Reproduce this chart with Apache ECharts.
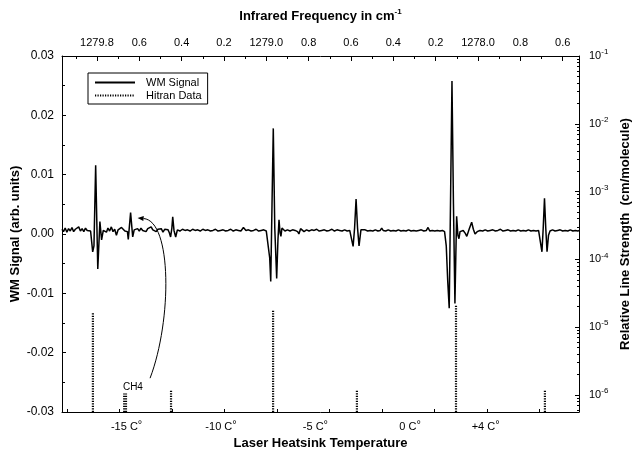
<!DOCTYPE html>
<html>
<head>
<meta charset="utf-8">
<script src="https://cdn.jsdelivr.net/npm/echarts@6/dist/echarts.min.js"></script>
<style>
  html, body { margin: 0; padding: 0; background: #fff; }
  #main { width: 639px; height: 452px; }
</style>
</head>
<body>
<div id="main"></div>
<script>
// WM signal trace, x = infrared frequency (cm-1), y = signal (arb. units)
var sigX = [
  1279.965, 1279.958, 1279.950, 1279.942, 1279.934, 1279.926, 1279.918, 1279.910, 1279.902, 1279.894,
  1279.886, 1279.878, 1279.870, 1279.862, 1279.854, 1279.846, 1279.838, 1279.830, 1279.825,
  1279.820, 1279.814, 1279.806, 1279.796, 1279.786, 1279.778, 1279.770, 1279.762, 1279.755, 1279.748,
  1279.740, 1279.732, 1279.724, 1279.716, 1279.708, 1279.700, 1279.692, 1279.684, 1279.676, 1279.668,
  1279.660, 1279.656,
  1279.652, 1279.641, 1279.631, 1279.624, 1279.616, 1279.608, 1279.600, 1279.592, 1279.584, 1279.576,
  1279.568, 1279.560, 1279.552, 1279.544, 1279.536, 1279.528, 1279.520, 1279.512, 1279.504, 1279.496,
  1279.488, 1279.480, 1279.472, 1279.464, 1279.458,
  1279.452, 1279.446, 1279.442, 1279.436, 1279.428, 1279.420, 1279.408, 1279.396, 1279.384, 1279.372,
  1279.360, 1279.348, 1279.336, 1279.324, 1279.312, 1279.300, 1279.288, 1279.276, 1279.264, 1279.252,
  1279.240, 1279.228, 1279.216, 1279.204, 1279.192, 1279.180, 1279.168, 1279.156, 1279.144, 1279.132,
  1279.120, 1279.108, 1279.096, 1279.084, 1279.072, 1279.060, 1279.048, 1279.036, 1279.024, 1279.012,
  1279.000, 1278.992,
  1278.984, 1278.979, 1278.973, 1278.967, 1278.960, 1278.951, 1278.945, 1278.940, 1278.935, 1278.931,
  1278.926, 1278.921, 1278.912, 1278.900, 1278.888, 1278.876, 1278.864, 1278.852, 1278.846, 1278.838,
  1278.831, 1278.822, 1278.810, 1278.798, 1278.786, 1278.774, 1278.762, 1278.750, 1278.738, 1278.726,
  1278.714, 1278.702, 1278.690, 1278.678, 1278.666, 1278.654, 1278.642, 1278.630, 1278.618, 1278.606,
  1278.598,
  1278.590, 1278.583, 1278.576, 1278.569, 1278.562, 1278.553, 1278.545, 1278.533, 1278.521, 1278.509,
  1278.497, 1278.485, 1278.473, 1278.462, 1278.455, 1278.448, 1278.436, 1278.424, 1278.412, 1278.400,
  1278.388, 1278.376, 1278.364, 1278.352, 1278.340, 1278.328, 1278.316, 1278.304, 1278.292, 1278.280,
  1278.268, 1278.256, 1278.244, 1278.236, 1278.228, 1278.216, 1278.204, 1278.192, 1278.180, 1278.168,
  1278.158,
  1278.150, 1278.143, 1278.136, 1278.130, 1278.123, 1278.116, 1278.109, 1278.105, 1278.101, 1278.095,
  1278.090, 1278.085, 1278.080, 1278.070, 1278.060, 1278.053, 1278.042, 1278.030, 1278.022, 1278.014,
  1278.004, 1277.991, 1277.978, 1277.966, 1277.954, 1277.942, 1277.930, 1277.918, 1277.906, 1277.894,
  1277.882, 1277.870, 1277.858, 1277.846, 1277.834, 1277.822, 1277.810, 1277.798, 1277.786, 1277.774,
  1277.762, 1277.750, 1277.738, 1277.726, 1277.714, 1277.705,
  1277.698, 1277.692, 1277.686, 1277.680, 1277.674, 1277.667, 1277.660, 1277.648, 1277.636, 1277.624,
  1277.612, 1277.600, 1277.588, 1277.576, 1277.564, 1277.552, 1277.540, 1277.528, 1277.523
];
var sigY = [
  0.0008, 0.0004, 0.0010, 0.0003, 0.0009, 0.0005, 0.0011, 0.0004, 0.0008, 0.0006,
  0.0012, 0.0005, 0.0009, 0.0004, 0.0010, 0.0006, 0.0008, 0.0005, 0.0002,
  -0.0030, -0.0020, 0.0116, -0.0059, 0.0021, -0.0010, 0.0006, 0.0009, 0.0003, 0.0010,
  0.0005, 0.0012, 0.0004, 0.0008, -0.0002, 0.0007, 0.0004, 0.0011, 0.0010, 0.0005,
  0.0008, 0.0004,
  -0.0009, 0.0036, -0.0005, 0.0007, 0.0004, 0.0009, 0.0005, 0.0010, 0.0006, 0.0008,
  0.0004, 0.0009, 0.0006, 0.0012, 0.0007, 0.0010, 0.0004, 0.0008, 0.0005, 0.0009,
  0.0003, 0.0008, 0.0005, 0.0007, 0.0002,
  -0.0005, 0.0010, 0.0029, 0.0006, -0.0005, 0.0007, 0.0005, 0.0008, 0.0006, 0.0007,
  0.0005, 0.0008, 0.0006, 0.0007, 0.0005, 0.0008, 0.0006, 0.0007, 0.0005, 0.0006,
  0.0008, 0.0005, 0.0006, 0.0007, 0.0005, 0.0006, 0.0008, 0.0005, 0.0007, 0.0006,
  0.0005, 0.0011, 0.0006, 0.0007, 0.0005, 0.0006, 0.0008, 0.0005, 0.0006, 0.0007,
  0.0005, 0.0003,
  -0.0040, -0.0080, 0.0050, 0.0178, 0.0010, -0.0075, -0.0010, 0.0024, 0.0002, -0.0004,
  0.0010, 0.0008, 0.0005, 0.0007, 0.0005, 0.0007, 0.0006, 0.0004, 0.0000, 0.0009,
  0.0012, 0.0004, 0.0007, 0.0005, 0.0007, 0.0006, 0.0008, 0.0005, 0.0006, 0.0007,
  0.0005, 0.0006, 0.0008, 0.0005, 0.0007, 0.0006, 0.0005, 0.0007, 0.0005, 0.0006,
  0.0004,
  -0.0021, 0.0010, 0.0059, 0.0010, -0.0020, 0.0007, 0.0005, 0.0007, 0.0005, 0.0006,
  0.0005, 0.0007, 0.0005, 0.0006, 0.0010, 0.0006, 0.0005, 0.0007, 0.0005, 0.0006,
  0.0005, 0.0007, 0.0005, 0.0006, 0.0005, 0.0007, 0.0005, 0.0006, 0.0005, 0.0006,
  0.0007, 0.0005, 0.0006, 0.0011, 0.0005, 0.0006, 0.0005, 0.0006, 0.0005, 0.0006,
  0.0004,
  -0.0020, -0.0080, -0.0125, 0.0050, 0.0258, 0.0050, -0.0117, -0.0040, 0.0030, -0.0002,
  -0.0008, 0.0004, 0.0002, 0.0006, 0.0001, -0.0004, 0.0008, 0.0020, 0.0008, 0.0000,
  0.0004, 0.0006, 0.0005, 0.0007, 0.0005, 0.0006, 0.0007, 0.0005, 0.0006, 0.0008,
  0.0005, 0.0006, 0.0007, 0.0005, 0.0006, 0.0005, 0.0007, 0.0005, 0.0006, 0.0005,
  0.0007, 0.0005, 0.0006, 0.0005, 0.0006, 0.0004,
  -0.0030, 0.0010, 0.0060, 0.0010, -0.0030, -0.0002, 0.0005, 0.0007, 0.0005, 0.0006,
  0.0007, 0.0005, 0.0006, 0.0005, 0.0007, 0.0005, 0.0006, 0.0005, 0.0006
];

// Hitran line positions (cm-1) and relative line strengths (cm/molecule)
var hitranX = [1279.819, 1279.450, 1278.968, 1278.572, 1278.104, 1277.684];
var hitranS = [1.6e-5, 1.15e-6, 1.8e-5, 1.15e-6, 2.1e-5, 1.15e-6];
var ch4X = [1279.667];
var ch4S = [1.05e-6];

// axis ranges
var FREQ_MIN = 1277.523, FREQ_MAX = 1279.965;
var SIG_MIN = -0.03, SIG_MAX = 0.03;
var STR_MIN = 5.6e-7, STR_MAX = 0.1;

// top axis (infrared frequency)
var topTickVals = [1279.8, 1279.6, 1279.4, 1279.2, 1279.0, 1278.8, 1278.6, 1278.4, 1278.2, 1278.0, 1277.8, 1277.6];
var topTickLabels = ['1279.8', '0.6', '0.4', '0.2', '1279.0', '0.8', '0.6', '0.4', '0.2', '1278.0', '0.8', '0.6'];
var topMinorVals = [1279.9, 1279.7, 1279.5, 1279.3, 1279.1, 1278.9, 1278.7, 1278.5, 1278.3, 1278.1, 1277.9, 1277.7];

// bottom axis (laser heatsink temperature)
var tempVals = [1279.660, 1279.214, 1278.768, 1278.321, 1277.964];
var tempLabels = ['-15 C°', '-10 C°', '-5 C°', '0 C°', '+4 C°'];
var bottomTickVals = [1279.941, 1279.693, 1279.445, 1279.197, 1278.949, 1278.701, 1278.453, 1278.205, 1277.957, 1277.709];

// right axis minor ticks (log)
var logDecades = [1e-6, 1e-5, 1e-4, 1e-3, 1e-2];
var logMantissas = [2, 3, 4, 5, 6, 7, 8, 9];

// CH4 annotation: label position and curved arrow (start, two control points, tip)
var ch4LabelAt = [1279.630, -0.0258];
var arrowPath = [[1279.549, -0.0243], [1279.445, -0.0145], [1279.445, 0.0022], [1279.608, 0.0027]];

var logMinorVals = [6e-7, 7e-7, 8e-7, 9e-7];
logDecades.forEach(function (d) {
  logMantissas.forEach(function (m) { logMinorVals.push(m * d); });
});

var sigData = sigX.map(function (x, i) { return [x, sigY[i]]; });

function stickData(xs, ss) {
  var out = [];
  xs.forEach(function (x, i) {
    out.push([x, STR_MIN], [x, ss[i]], [x, '-']);
  });
  return out;
}

function renderArrow(params, api) {
  var p = arrowPath.map(function (c) { return api.coord(c); });
  var ex = p[3][0] - p[2][0], ey = p[3][1] - p[2][1];
  var len = Math.sqrt(ex * ex + ey * ey) || 1;
  var ux = ex / len, uy = ey / len;
  var L = 6, W = 2.6;
  var bx = p[3][0] - ux * L, by = p[3][1] - uy * L;
  return {
    type: 'group',
    children: [
      {
        type: 'bezierCurve',
        shape: { x1: p[0][0], y1: p[0][1], cpx1: p[1][0], cpy1: p[1][1], cpx2: p[2][0], cpy2: p[2][1], x2: bx, y2: by },
        style: { stroke: '#000', fill: null, lineWidth: 1 }
      },
      {
        type: 'polygon',
        shape: { points: [p[3], [bx - uy * W, by + ux * W], [bx + uy * W, by - ux * W]] },
        style: { fill: '#000' }
      }
    ]
  };
}

var chart = echarts.init(document.getElementById('main'), null, { renderer: 'canvas' });

var FONT = 'Liberation Sans';
var axisBlack = { onZero: false, lineStyle: { color: '#000', width: 1 } };

var option = {
  backgroundColor: '#fff',
  animation: false,
  grid: { left: 62, right: 60, top: 56, bottom: 40, outerBoundsMode: 'none' },
  legend: {
    left: 88, top: 73,
    orient: 'vertical',
    data: ['WM Signal', 'Hitran Data'],
    borderColor: '#000', borderWidth: 1, borderRadius: 0,
    padding: [4, 6, 3, 6],
    itemGap: 2,
    itemWidth: 40, itemHeight: 8,
    itemStyle: { color: 'rgba(0,0,0,0)', borderColor: 'rgba(0,0,0,0)', borderWidth: 0 },
    textStyle: { fontFamily: FONT, fontSize: 11, color: '#000', padding: [0, 0, 0, 6] }
  },
  xAxis: [
    {
      type: 'value', position: 'bottom', inverse: true,
      min: FREQ_MIN, max: FREQ_MAX,
      name: 'Laser Heatsink Temperature', nameLocation: 'middle', nameGap: 25, nameMoveOverlap: false,
      nameTextStyle: { fontFamily: FONT, fontSize: 13, fontWeight: 'bold', color: '#000' },
      axisLine: axisBlack,
      axisTick: { show: true, inside: true, length: 3, customValues: bottomTickVals, lineStyle: { color: '#000' } },
      axisLabel: {
        customValues: tempVals, margin: 7,
        fontFamily: FONT, fontSize: 11, color: '#000',
        formatter: function (v) {
          var i = tempVals.indexOf(v);
          var t = i >= 0 ? tempLabels[i] : '';
          return t.replace('°', '{s|°}');
        },
        rich: { s: { fontFamily: FONT, fontSize: 11, color: '#000', padding: [0, 0, 4, 0] } }
      },
      splitLine: { show: false }
    },
    {
      type: 'value', position: 'top', inverse: true,
      min: FREQ_MIN, max: FREQ_MAX,
      name: 'Infrared Frequency in cm{s|-1}', nameLocation: 'middle', nameGap: 32, nameMoveOverlap: false,
      nameTextStyle: {
        fontFamily: FONT, fontSize: 13, fontWeight: 'bold', color: '#000',
        rich: { s: { fontFamily: FONT, fontSize: 8, fontWeight: 'bold', color: '#000', padding: [0, 0, 8, 0] } }
      },
      axisLine: axisBlack,
      axisTick: { show: true, inside: true, length: 5, customValues: topTickVals, lineStyle: { color: '#000' } },
      axisLabel: {
        customValues: topTickVals, margin: 8,
        fontFamily: FONT, fontSize: 11, color: '#000',
        formatter: function (v) {
          var i = topTickVals.indexOf(v);
          return i >= 0 ? topTickLabels[i] : '';
        }
      },
      splitLine: { show: false }
    },
    {
      type: 'value', position: 'top', inverse: true,
      min: FREQ_MIN, max: FREQ_MAX,
      axisLine: { show: false, onZero: false },
      axisTick: { show: true, inside: true, length: 3, customValues: topMinorVals, lineStyle: { color: '#000' } },
      axisLabel: { show: false },
      splitLine: { show: false }
    }
  ],
  yAxis: [
    {
      type: 'value', position: 'left',
      min: SIG_MIN, max: SIG_MAX, interval: 0.01,
      name: 'WM Signal (arb. units)', nameLocation: 'middle', nameGap: 40, nameMoveOverlap: false,
      nameTextStyle: { fontFamily: FONT, fontSize: 13, fontWeight: 'bold', color: '#000' },
      axisLine: { show: true, onZero: false, lineStyle: { color: '#000', width: 1 } },
      axisTick: { show: true, inside: true, length: 4, lineStyle: { color: '#000' } },
      minorTick: { show: true, splitNumber: 2, length: 3, lineStyle: { color: '#000' } },
      axisLabel: {
        margin: 8, fontFamily: FONT, fontSize: 12, color: '#000',
        formatter: function (v) { return v.toFixed(2); }
      },
      splitLine: { show: false }
    },
    {
      type: 'log', logBase: 10, position: 'right',
      min: STR_MIN, max: STR_MAX,
      name: 'Relative Line Strength  (cm/molecule)', nameLocation: 'middle', nameGap: 40, nameRotate: 90,
      nameMoveOverlap: false,
      nameTextStyle: { fontFamily: FONT, fontSize: 13, fontWeight: 'bold', color: '#000' },
      axisLine: { show: true, onZero: false, lineStyle: { color: '#000', width: 1 } },
      axisTick: { show: true, inside: true, length: 4, lineStyle: { color: '#000' } },
      axisLabel: {
        margin: 10, fontFamily: FONT, fontSize: 11, color: '#000',
        formatter: function (v) {
          var e = Math.log(v) / Math.LN10;
          var r = Math.round(e);
          if (Math.abs(e - r) > 0.01) return '';
          return '{b|10}{s|' + r + '}';
        },
        rich: {
          b: { fontFamily: FONT, fontSize: 11, color: '#000' },
          s: { fontFamily: FONT, fontSize: 8, color: '#000', padding: [0, 0, 8, 0] }
        }
      },
      splitLine: { show: false }
    },
    {
      type: 'log', logBase: 10, position: 'right',
      min: STR_MIN, max: STR_MAX,
      axisLine: { show: false, onZero: false },
      axisTick: { show: true, inside: true, length: 2, customValues: logMinorVals, lineStyle: { color: '#000' } },
      axisLabel: { show: false },
      splitLine: { show: false }
    }
  ],
  series: [
    {
      name: 'WM Signal', type: 'line',
      xAxisIndex: 0, yAxisIndex: 0,
      data: sigData,
      symbol: 'none', showSymbol: false,
      lineStyle: { color: '#000', width: 1.5 },
      itemStyle: { color: '#000' },
      z: 3,
      markPoint: {
        silent: true, animation: false,
        symbol: 'circle', symbolSize: 1,
        itemStyle: { color: 'rgba(0,0,0,0)' },
        label: { show: true, position: 'inside', formatter: 'CH4', fontFamily: FONT, fontSize: 10, color: '#000' },
        data: [{ coord: ch4LabelAt }]
      }
    },
    {
      name: 'Hitran Data', type: 'line',
      xAxisIndex: 0, yAxisIndex: 1,
      data: stickData(hitranX, hitranS),
      connectNulls: false,
      symbol: 'none', showSymbol: false,
      lineStyle: { color: '#000', width: 2.2, type: [1.2, 1.3] },
      itemStyle: { color: '#000' },
      z: 2
    },
    {
      name: 'Hitran Data', type: 'line',
      xAxisIndex: 0, yAxisIndex: 1,
      data: stickData(ch4X, ch4S),
      connectNulls: false,
      symbol: 'none', showSymbol: false,
      lineStyle: { color: '#000', width: 4, type: [1.2, 1.3] },
      itemStyle: { color: '#000' },
      z: 2
    },
    {
      name: 'arrow', type: 'custom',
      xAxisIndex: 0, yAxisIndex: 0,
      silent: true,
      renderItem: renderArrow,
      data: [arrowPath[3]],
      z: 4
    }
  ]
};

chart.setOption(option);
</script>
</body>
</html>
